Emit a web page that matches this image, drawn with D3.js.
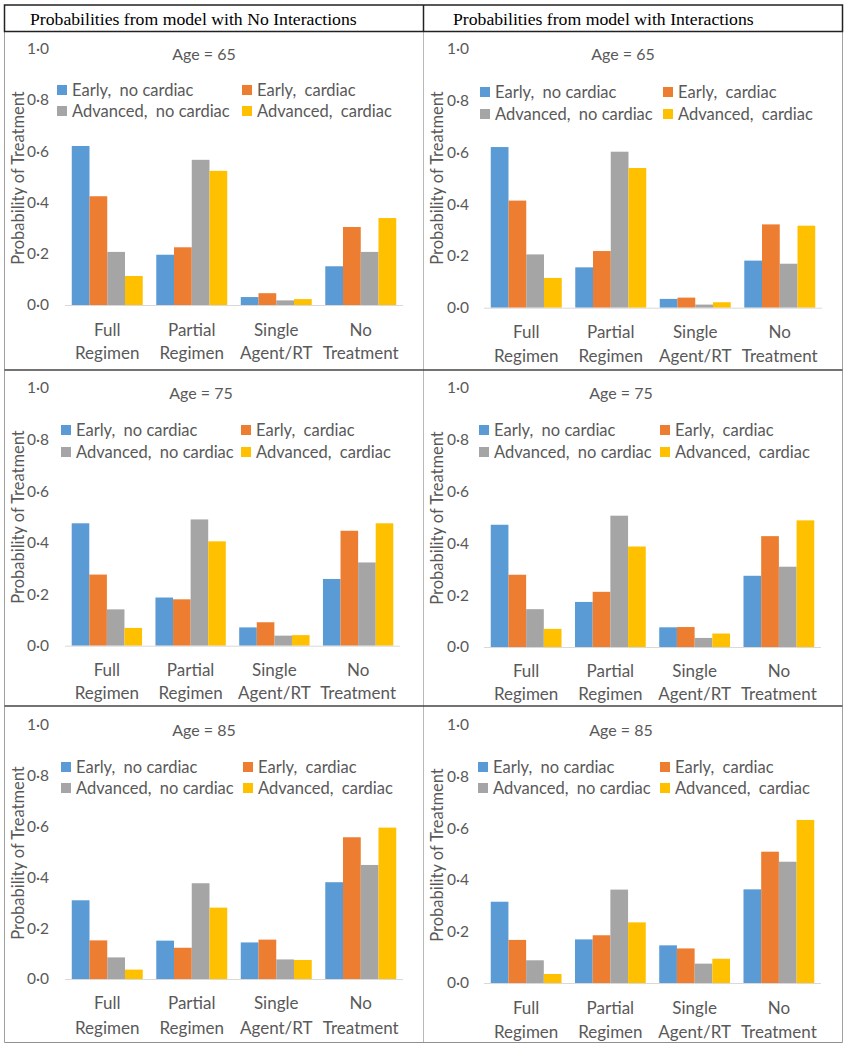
<!DOCTYPE html>
<html>
<head>
<meta charset="utf-8">
<script src="https://cdn.jsdelivr.net/npm/d3@7"></script>
<style>
  html, body { margin: 0; padding: 0; background: #fff; }
  svg { display: block; }
  .pre { white-space: pre; }
</style>
</head>
<body>
<svg id="chart" width="848" height="1050"></svg>
<script>
// ---------------- DATA ----------------
const columnTitles = ["Probabilities from model with No Interactions", "Probabilities from model with Interactions"];
const ageTitles = ["Age = 65", "Age = 75", "Age = 85"];
const categories = [["Full", "Regimen"], ["Partial", "Regimen"], ["Single", "Agent/RT"], ["No", "Treatment"]];
const seriesNames = ["Early,  no cardiac", "Early,  cardiac", "Advanced,  no cardiac", "Advanced,  cardiac"];
const seriesColors = ["#5B9BD5", "#ED7D31", "#A5A5A5", "#FFC000"];
const yTickValues = [0, 0.2, 0.4, 0.6, 0.8, 1.0];
const yTickLabels = ["0·0", "0·2", "0·4", "0·6", "0·8", "1·0"];
const yTitle = "Probability of Treatment";

// each inner array: one series across [Full, Partial, Single, No]
const noInt65 = [
  [0.620, 0.196, 0.031, 0.151],
  [0.424, 0.225, 0.046, 0.304],
  [0.207, 0.566, 0.018, 0.207],
  [0.113, 0.523, 0.023, 0.339]
];
const int65 = [
  [0.621, 0.156, 0.034, 0.182],
  [0.414, 0.219, 0.039, 0.322],
  [0.206, 0.603, 0.012, 0.170],
  [0.115, 0.540, 0.021, 0.317]
];
const noInt75 = [
  [0.475, 0.187, 0.071, 0.259],
  [0.276, 0.180, 0.091, 0.446],
  [0.141, 0.490, 0.039, 0.323],
  [0.069, 0.405, 0.041, 0.475]
];
const int75 = [
  [0.472, 0.174, 0.076, 0.275],
  [0.279, 0.213, 0.077, 0.428],
  [0.146, 0.507, 0.035, 0.310],
  [0.070, 0.388, 0.052, 0.489]
];
const noInt85 = [
  [0.310, 0.151, 0.144, 0.381],
  [0.152, 0.123, 0.155, 0.558],
  [0.085, 0.377, 0.077, 0.449],
  [0.037, 0.281, 0.075, 0.596]
];
const int85 = [
  [0.315, 0.169, 0.146, 0.363],
  [0.167, 0.185, 0.134, 0.509],
  [0.088, 0.362, 0.075, 0.470],
  [0.035, 0.235, 0.094, 0.632]
];

// ---------------- LAYOUT ----------------
const panels = [
  { data: noInt65, age: 0, xL: 65,  xR: 403, yB: 305,   yT: 48.5, tickX: 49,  ageX: 204, ageY: 54,  lgX: [57, 242],  lgY: [90, 111],  xlY: [330, 353],  ytX: 18,  ytY: 178 },
  { data: int65,   age: 0, xL: 484, xR: 822, yB: 307.7, yT: 49,   tickX: 469, ageX: 623, ageY: 54,  lgX: [480, 663], lgY: [92, 114],  xlY: [332.5, 356], ytX: 437, ytY: 178 },
  { data: noInt75, age: 1, xL: 65,  xR: 400, yB: 645.7, yT: 388,  tickX: 49,  ageX: 201, ageY: 393, lgX: [61, 241],  lgY: [430, 452], xlY: [670, 693],  ytX: 18,  ytY: 517 },
  { data: int75,   age: 1, xL: 484, xR: 821, yB: 647,   yT: 388,  tickX: 469, ageX: 621, ageY: 393, lgX: [479, 660], lgY: [430, 452], xlY: [671, 694],  ytX: 437, ytY: 518 },
  { data: noInt85, age: 2, xL: 65,  xR: 403, yB: 979,   yT: 725,  tickX: 49,  ageX: 204, ageY: 730, lgX: [61, 243],  lgY: [767, 788], xlY: [1003, 1028], ytX: 18,  ytY: 853 },
  { data: int85,   age: 2, xL: 484, xR: 821, yB: 983,   yT: 725,  tickX: 469, ageX: 621, ageY: 730, lgX: [478, 660], lgY: [767, 788], xlY: [1008, 1032], ytX: 437, ytY: 855 }
];

const FONT = "Lato, 'Open Sans', sans-serif";
const TXT = "#595959";
const svg = d3.select("#chart");
svg.append("rect").attr("width", 848).attr("height", 1050).attr("fill", "#fff");

// ---------------- TABLE ----------------
const tbl = svg.append("g");
const L = 4.5, R = 842.5, M = 423.5, T = 5, H = 31.5, B = 1042.5;
const rowsY = [370, 706];
tbl.append("line").attr("x1", L).attr("x2", L).attr("y1", H).attr("y2", B).attr("stroke", "#a0a0a0").attr("stroke-width", 1);
tbl.append("line").attr("x1", R).attr("x2", R).attr("y1", H).attr("y2", B).attr("stroke", "#a0a0a0").attr("stroke-width", 1);
tbl.append("line").attr("x1", M).attr("x2", M).attr("y1", H).attr("y2", B).attr("stroke", "#b8b8b8").attr("stroke-width", 1);
tbl.append("line").attr("x1", L).attr("x2", R).attr("y1", B).attr("y2", B).attr("stroke", "#909090").attr("stroke-width", 1);
rowsY.forEach(y => tbl.append("line").attr("x1", L).attr("x2", R).attr("y1", y).attr("y2", y).attr("stroke", "#444").attr("stroke-width", 1.3));
tbl.append("rect").attr("x", L).attr("y", T).attr("width", R - L).attr("height", H - T)
  .attr("fill", "none").attr("stroke", "#222").attr("stroke-width", 1.5);
tbl.append("line").attr("x1", M).attr("x2", M).attr("y1", T).attr("y2", H).attr("stroke", "#222").attr("stroke-width", 1.5);

tbl.selectAll("text.hdr").data(columnTitles).join("text")
  .attr("class", "hdr")
  .attr("x", (d, i) => i === 0 ? 30 : 453)
  .attr("y", 24.5)
  .attr("font-family", "'Liberation Serif', 'Times New Roman', serif")
  .attr("font-size", 17.7)
  .attr("fill", "#000")
  .text(d => d);

// ---------------- PANELS ----------------
panels.forEach(p => {
  const g = svg.append("g");
  const x0 = d3.scaleBand().domain(d3.range(categories.length)).range([p.xL, p.xR]).paddingInner(0.16).paddingOuter(0.08);
  const x1 = d3.scaleBand().domain(d3.range(seriesNames.length)).range([0, x0.bandwidth()]).padding(0);
  const y = d3.scaleLinear().domain([0, 1]).range([p.yB, p.yT]);

  // y axis labels
  const ax = d3.axisLeft(y).tickValues(yTickValues).tickSize(0).tickPadding(0)
    .tickFormat((d, i) => yTickLabels[i]);
  const axG = g.append("g").attr("transform", `translate(${p.tickX},0)`).call(ax);
  axG.select(".domain").remove();
  axG.selectAll("text").attr("font-family", FONT).attr("font-size", 15.5).attr("fill", TXT);

  // bars
  const bars = g.append("g");
  p.data.forEach((series, si) => {
    bars.selectAll(null).data(series).join("rect")
      .attr("x", (d, ci) => x0(ci) + x1(si))
      .attr("width", x1.bandwidth())
      .attr("y", d => y(d))
      .attr("height", d => y(0) - y(d))
      .attr("fill", seriesColors[si]);
  });

  // baseline
  g.append("line").attr("x1", p.xL).attr("x2", p.xR).attr("y1", y(0) + 0.5).attr("y2", y(0) + 0.5)
    .attr("stroke", "#D9D9D9").attr("stroke-width", 1);

  // x category labels
  categories.forEach((lines, ci) => {
    lines.forEach((t, li) => {
      g.append("text")
        .attr("x", x0(ci) + x0.bandwidth() / 2)
        .attr("y", p.xlY[li])
        .attr("dy", "0.35em")
        .attr("text-anchor", "middle")
        .attr("font-family", FONT).attr("font-size", 17).attr("fill", TXT)
        .text(t);
    });
  });

  // age title
  g.append("text").attr("x", p.ageX).attr("y", p.ageY).attr("dy", "0.35em")
    .attr("text-anchor", "middle").attr("font-family", FONT).attr("font-size", 16)
    .attr("fill", TXT).text(ageTitles[p.age]);

  // y title
  g.append("text")
    .attr("transform", `translate(${p.ytX},${p.ytY}) rotate(-90)`)
    .attr("dy", "0.35em")
    .attr("text-anchor", "middle").attr("font-family", FONT).attr("font-size", 16.5)
    .attr("fill", TXT).text(yTitle);

  // legend
  seriesNames.forEach((name, si) => {
    const col = si % 2, row = Math.floor(si / 2);
    const lx = p.lgX[col], ly = p.lgY[row];
    g.append("rect").attr("x", lx).attr("y", ly - 5).attr("width", 10).attr("height", 10).attr("fill", seriesColors[si]);
    g.append("text").attr("class", "pre").attr("x", lx + 15).attr("y", ly).attr("dy", "0.35em")
      .attr("font-family", FONT).attr("font-size", 16.5).attr("fill", TXT)
      .text(name);
  });
});
</script>
</body>
</html>
